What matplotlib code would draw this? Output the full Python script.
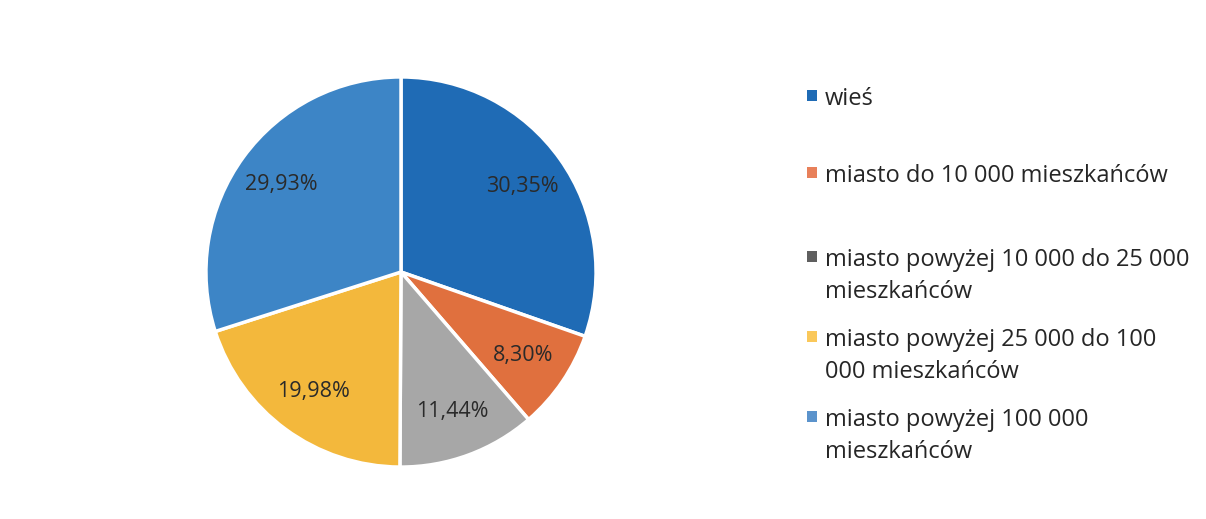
import matplotlib.pyplot as plt
from matplotlib.patches import Rectangle

categories = [
    "wieś",
    "miasto do 10 000 mieszkańców",
    "miasto powyżej 10 000 do 25 000\nmieszkańców",
    "miasto powyżej 25 000 do 100\n000 mieszkańców",
    "miasto powyżej 100 000\nmieszkańców",
]
shares = [30.35, 8.30, 11.44, 19.98, 29.93]
colors = ["#1F6BB5", "#E0703E", "#A7A7A7", "#F3B83C", "#3D85C6"]
legend_colors = ["#1F6BB5", "#E8805A", "#5F5F5F", "#FAC85A", "#5B93CC"]

plt.rcParams["font.family"] = ["Open Sans", "DejaVu Sans"]

W, H = 1206, 519
fig = plt.figure(figsize=(W / 100, H / 100), dpi=100)
fig.patch.set_facecolor("white")

cx, cy, r = 401, 272, 197
ax = fig.add_axes([(cx - r) / W, (H - cy - r) / H, 2 * r / W, 2 * r / H])
wedges, texts, autotexts = ax.pie(
    shares,
    colors=colors,
    startangle=90,
    counterclock=False,
    autopct=lambda p: f"{p:.2f}%".replace(".", ","),
    pctdistance=0.76,
    wedgeprops=dict(edgecolor="white", linewidth=2.5),
    textprops=dict(fontsize=15.5, color="#2a2a2a"),
)
ax.set_xlim(-1.01, 1.01)
ax.set_ylim(-1.01, 1.01)
ax.set_aspect("equal")
ax.axis("off")

# Legend drawn entry by entry so the wrapped labels sit like the original
entry_y = [96, 173, 257, 337, 417]
line_gap = 32
for label, col, y in zip(categories, legend_colors, entry_y):
    fig.patches.append(Rectangle((807 / W, (H - y - 5) / H), 10 / W, 11 / H,
                                 transform=fig.transFigure, facecolor=col,
                                 edgecolor="none"))
    for i, line in enumerate(label.split("\n")):
        base = y + 9 + i * line_gap
        fig.text(825 / W, (H - base) / H, line, fontsize=17, color="#262626",
                 va="baseline", ha="left")

fig.savefig("out.png", dpi=100, facecolor="white")
